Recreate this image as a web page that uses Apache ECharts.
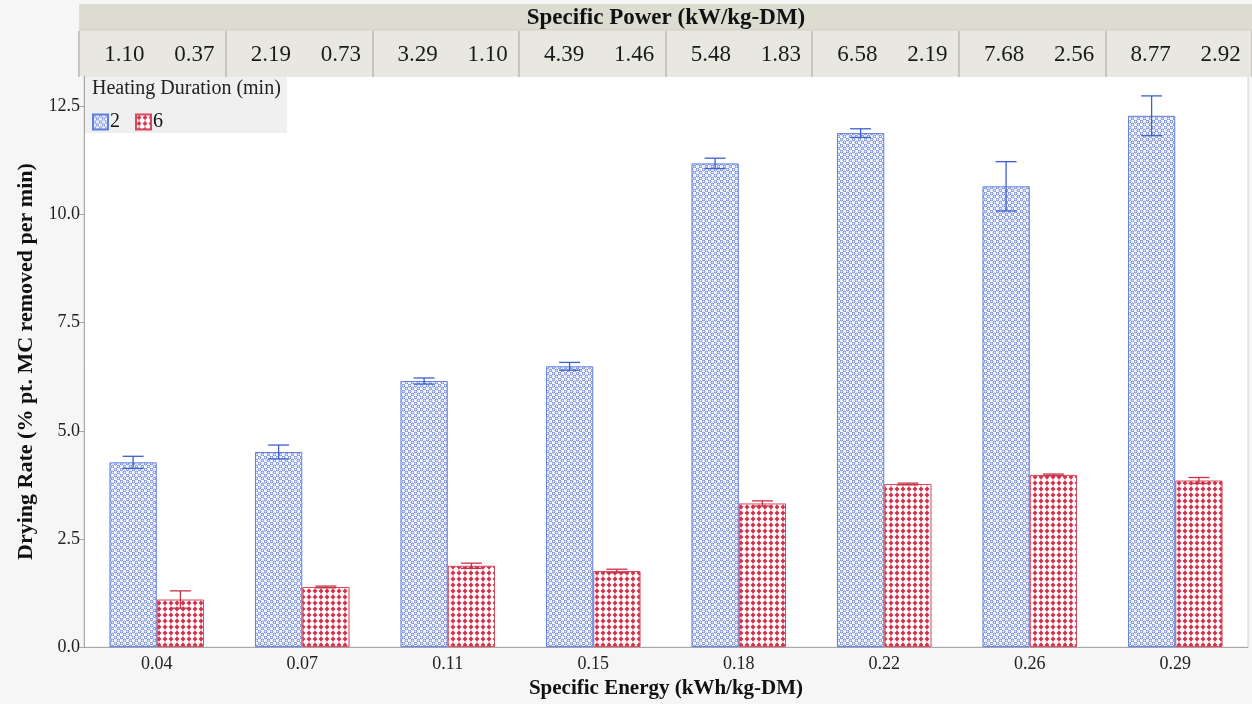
<!DOCTYPE html>
<html>
<head>
<meta charset="utf-8">
<script src="https://cdn.jsdelivr.net/npm/echarts@6/dist/echarts.min.js"></script>
<style>html,body{margin:0;padding:0;background:#f6f6f6;width:1252px;height:704px;overflow:hidden;}#c{width:1252px;height:704px;}</style>
</head>
<body>
<div id="c"></div>
<script>
// ---- data ----
const categories = ['0.04','0.07','0.11','0.15','0.18','0.22','0.26','0.29'];
const seriesNames = ['2','6'];
const rate2 = [4.27, 4.51, 6.15, 6.49, 11.18, 11.88, 10.65, 12.28];
const err2  = [0.14, 0.16, 0.07, 0.09, 0.12, 0.10, 0.57, 0.46];
const rate6 = [1.10, 1.39, 1.88, 1.76, 3.32, 3.77, 3.98, 3.85];
const err6  = [0.20, 0.02, 0.06, 0.04, 0.06, 0.02, 0.02, 0.07];
const power2 = ['1.10','2.19','3.29','4.39','5.48','6.58','7.68','8.77'];
const power6 = ['0.37','0.73','1.10','1.46','1.83','2.19','2.56','2.92'];
const yTicks = [0, 2.5, 5, 7.5, 10, 12.5];

// ---- patterns ----
function bluePattern(){
  const s = 6;
  const c = document.createElement('canvas'); c.width = s; c.height = s;
  const g = c.getContext('2d');
  g.fillStyle = '#f8f9ff'; g.fillRect(0,0,s,s);
  g.strokeStyle = '#5a78dc'; g.lineWidth = 1;
  [[1.5,1.5],[4.5,4.5]].forEach(p=>{g.beginPath();g.arc(p[0],p[1],1.3,0,Math.PI*2);g.stroke();});
  return c;
}
function redPattern(){
  const s = 6;
  const c = document.createElement('canvas'); c.width = s; c.height = s;
  const g = c.getContext('2d');
  g.fillStyle = '#ffffff'; g.fillRect(0,0,s,s);
  g.strokeStyle = '#f0b4be'; g.lineWidth = 1;
  g.beginPath(); g.moveTo(3,0); g.lineTo(3,s); g.stroke();
  g.fillStyle = '#d3304a';
  g.beginPath(); g.moveTo(3,0.5); g.lineTo(5.5,3); g.lineTo(3,5.5); g.lineTo(0.5,3); g.closePath(); g.fill();
  return c;
}

const GAP = 0.35;
function errSeries(vals, errs, idx, color){
  return {
    type: 'custom', xAxisIndex: 0, yAxisIndex: 0, z: 5,
    data: vals.map((v,i)=>[i, v, errs[i]]),
    renderItem: function(params, api){
      const i = api.value(0), v = api.value(1), e = api.value(2);
      const band = api.size([1,0])[0];
      const bw = band*(1-GAP)/2;
      const c = api.coord([i, v]);
      const x = c[0] + (idx===0 ? -bw/2 : bw/2);
      const top = api.coord([i, v+e])[1], bot = api.coord([i, v-e])[1];
      const hw = 10.5;
      const st = {stroke: color, lineWidth: 1.3};
      return {type:'group', children:[
        {type:'line', shape:{x1:x,y1:top,x2:x,y2:bot}, style:st},
        {type:'line', shape:{x1:x-hw,y1:top,x2:x+hw,y2:top}, style:st},
        {type:'line', shape:{x1:x-hw,y1:bot,x2:x+hw,y2:bot}, style:st}
      ]};
    }
  };
}

const serif = '"Liberation Serif","Times New Roman",serif';
const chart = echarts.init(document.getElementById('c'), null, {renderer:'canvas', width:1252, height:704});
chart.setOption({
  backgroundColor: '#f6f6f6',
  animation: false,
  textStyle: {fontFamily: serif},
  graphic: [
    {type:'rect', shape:{x:79,y:4,width:1173,height:26}, style:{fill:'#dcdcd0'}, z:0},
    {type:'rect', shape:{x:79,y:30,width:1173,height:46}, style:{fill:'#e8e8e1'}, z:0},
    {type:'line', shape:{x1:79,y1:30,x2:1252,y2:30}, style:{stroke:'#cfcfc6',lineWidth:1}, z:1},
    {type:'text', x: 666, y: 18, style:{text:'Specific Power (kW/kg-DM)', font:'bold 23px '+serif, fill:'#111', textAlign:'center', textVerticalAlign:'middle'}, z:2},
    {type:'rect', shape:{x:85,y:77,width:202,height:56}, style:{fill:'#f0f0f0'}, z:10},
    {type:'text', x: 92, y: 89, style:{text:'Heating Duration (min)', font:'20px '+serif, fill:'#222', textVerticalAlign:'middle'}, z:11}
  ],
  legend: {
    data: seriesNames, left: 92, top: 112, padding: 0, itemWidth: 15, itemHeight: 15, itemGap: 15,
    icon: 'rect', textStyle:{fontSize:20, fontFamily: serif, color:'#111', padding:[0,0,0,-3]}, z: 12
  },
  grid: [
    {left:84, width:1164, top:76, height:577, show:true, backgroundColor:'#ffffff', borderColor:'#d4d4d4', borderWidth:1},
    {left:79, width:1173, top:76, height:1, show:false}
  ],
  xAxis: [
    {type:'category', gridIndex:0, data:categories,
     name:'Specific Energy (kWh/kg-DM)', nameLocation:'middle', nameGap:29,
     nameTextStyle:{fontSize:21, fontWeight:'bold', fontFamily:serif, color:'#111'},
     axisLine:{lineStyle:{color:'#a8a8a8'}}, axisTick:{show:false},
     axisLabel:{fontSize:18, color:'#222', margin:8, fontFamily:serif}},
    {type:'category', gridIndex:1, data:categories, position:'top',
     axisLine:{show:false},
     axisTick:{show:true, length:46, lineStyle:{color:'#c6c6be', width:2}},
     axisLabel:{margin:10, interval:0, fontFamily:serif,
       formatter:function(v, i){ return '{a|'+power2[i]+'}{b|'+power6[i]+'}'; },
       rich:{a:{width:84, align:'center', fontSize:23, color:'#1a1a1a', fontFamily:serif},
             b:{width:56, align:'center', fontSize:23, color:'#1a1a1a', fontFamily:serif}}}}
  ],
  yAxis: [
    {type:'value', gridIndex:0, min:0, max:13.2, interval:2.5,
     name:'Drying Rate (% pt. MC removed per min)', nameLocation:'middle', nameGap:38,
     nameTextStyle:{fontSize:22, fontWeight:'bold', fontFamily:serif, color:'#111'},
     axisLine:{show:true, lineStyle:{color:'#a8a8a8'}},
     axisTick:{show:true, length:5, lineStyle:{color:'#a8a8a8'}},
     splitLine:{show:false},
     axisLabel:{fontSize:18, color:'#222', margin:4, fontFamily:serif,
       showMaxLabel:false,
       formatter:function(v){ return yTicks.indexOf(v) >= 0 ? v.toFixed(1) : ''; }}},
    {type:'value', gridIndex:1, show:false}
  ],
  series: [
    {name:seriesNames[0], type:'bar', data:rate2, barGap:'0%', barCategoryGap:(GAP*100)+'%',
     itemStyle:{color:{image:bluePattern(), repeat:'repeat'}, borderColor:'#5f7fdc', borderWidth:1}},
    {name:seriesNames[1], type:'bar', data:rate6, barGap:'0%', barCategoryGap:(GAP*100)+'%',
     itemStyle:{color:{image:redPattern(), repeat:'repeat'}, borderColor:'#d8485a', borderWidth:1}},
    errSeries(rate2, err2, 0, '#3d5fcf'),
    errSeries(rate6, err6, 1, '#c43348')
  ]
});
</script>
</body>
</html>
